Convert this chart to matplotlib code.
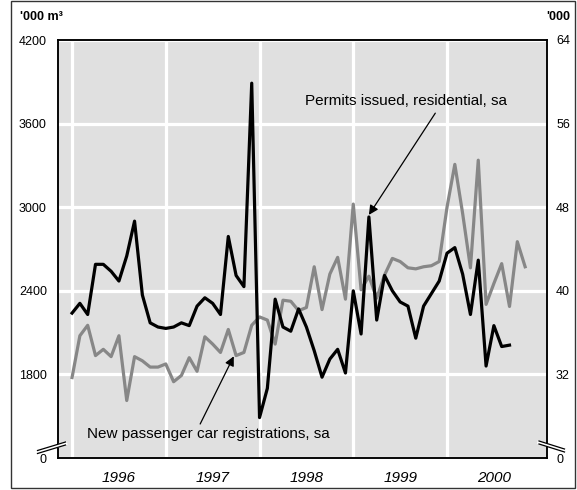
import numpy as np
import matplotlib
matplotlib.use("Agg")
import matplotlib.pyplot as plt
from matplotlib.lines import Line2D
from matplotlib.patches import Rectangle

plt.rcParams['font.family'] = ['Liberation Sans', 'DejaVu Sans']

years = ["1996", "1997", "1998", "1999", "2000"]

# permits issued, residential, sa ('000 m3), monthly from Jan 1996
permits = [2240, 2310, 2230, 2590, 2590, 2540, 2470, 2650, 2900, 2370, 2170, 2140,
           2130, 2140, 2170, 2150, 2290, 2350, 2310, 2230, 2790, 2510, 2430, 3890,
           1490, 1700, 2340, 2140, 2110, 2270, 2140, 1970, 1780, 1910, 1980, 1810,
           2400, 2090, 2930, 2190, 2510, 2400, 2320, 2290, 2060, 2290, 2380, 2470,
           2670, 2710, 2520, 2230, 2620, 1860, 2150, 2000, 2010]

# new passenger car registrations, sa ('000), monthly from Jan 1996
cars = [31.7, 35.7, 36.7, 33.8, 34.4, 33.7, 35.7, 29.5, 33.7, 33.3, 32.7, 32.7,
        33.0, 31.3, 31.9, 33.6, 32.3, 35.6, 34.9, 34.1, 36.3, 33.8, 34.1, 36.7,
        37.5, 37.2, 34.9, 39.1, 39.0, 38.1, 38.4, 42.3, 38.2, 41.6, 43.2, 39.2,
        48.3, 40.1, 41.4, 39.3, 41.5, 43.1, 42.8, 42.2, 42.1, 42.3, 42.4, 42.8,
        48.0, 52.1, 47.4, 42.2, 52.5, 38.7, 40.7, 42.6, 38.5, 44.7, 42.3]

left_ticks = [1200, 1800, 2400, 3000, 3600, 4200]
left_labels = ["0", "1800", "2400", "3000", "3600", "4200"]
right_ticks = [24, 32, 40, 48, 56, 64]
right_labels = ["0", "32", "40", "48", "56", "64"]

W, H = 577, 490
fig = plt.figure(figsize=(W / 100, H / 100), dpi=100)
ax = fig.add_axes([58 / W, 1 - 458 / H, (547 - 58) / W, (458 - 40) / H])
ax2 = ax.twinx()

# right axis carries the background and the grid, left axis sits on top
ax.set_zorder(ax2.get_zorder() + 1)
ax.patch.set_visible(False)
ax2.patch.set_visible(True)
ax2.set_facecolor('#e0e0e0')
ax2.set_axisbelow(True)
ax2.grid(axis='y', color='white', lw=2.3)
for i in range(len(years)):
    ax2.axvline(12 * i, color='white', lw=2.3, zorder=0.6)

ax2.plot(np.arange(len(cars)), cars, color='#878787', lw=2.3, zorder=2)
ax.plot(np.arange(len(permits)), permits, color='black', lw=2.3, zorder=3)

ax.set_xlim(-1.8, 60.8)
ax.set_ylim(1200, 4200)
ax2.set_ylim(24, 64)

ax.set_yticks(left_ticks, labels=left_labels)
ax2.set_yticks(right_ticks, labels=right_labels)
ax.set_xticks([6 + 12 * i for i in range(len(years))], labels=years)
ax.tick_params(axis='y', length=0, pad=8, labelsize=9)
ax2.tick_params(axis='y', length=0, pad=6.5, labelsize=9)
ax.tick_params(axis='x', length=0, pad=9.5, labelsize=11)
for t in ax.get_xticklabels():
    t.set_style('italic')

for a in (ax, ax2):
    for s in a.spines.values():
        s.set_linewidth(1.1)

# annotations
ax.text(42.7, 3762, "Permits issued, residential, sa", ha='center', va='center', fontsize=11)
ax.annotate('', xy=(38.0, 2945), xytext=(46.5, 3675),
            arrowprops=dict(arrowstyle='-|>', color='black', lw=0.9,
                            mutation_scale=14, shrinkA=0, shrinkB=0))
ax.text(17.5, 1375, "New passenger car registrations, sa", ha='center', va='center', fontsize=11)
ax.annotate('', xy=(20.7, 1930), xytext=(16.4, 1444),
            arrowprops=dict(arrowstyle='-|>', color='black', lw=0.9,
                            mutation_scale=14, shrinkA=0, shrinkB=0))

# unit labels
fig.text(20 / W, 1 - 17 / H, "'000 m³", fontweight='bold', fontsize=9, va='center')
fig.text(570 / W, 1 - 17 / H, "'000", fontweight='bold', fontsize=9, va='center', ha='right')


# axis break marks
def brk(x0, y0, x1, y1):
    fx = [x0 / W, x1 / W]
    fy = [1 - (y0 + 1.5) / H, 1 - (y1 + 1.5) / H]
    fig.add_artist(Line2D(fx, fy, color='white', lw=2.5, zorder=5))
    for dy in (0, 3):
        fig.add_artist(Line2D(fx, [1 - (y0 + dy) / H, 1 - (y1 + dy) / H],
                              color='black', lw=0.9, zorder=6))


brk(37.5, 450.5, 65.5, 442)
brk(539, 441, 564.5, 449)

fig.add_artist(Rectangle((11 / W, 1 - 488 / H), (575 - 11) / W, (488 - 1.5) / H,
                         transform=fig.transFigure, fill=False, lw=1, ec='#333333'))

fig.savefig('out.png', dpi=100)
